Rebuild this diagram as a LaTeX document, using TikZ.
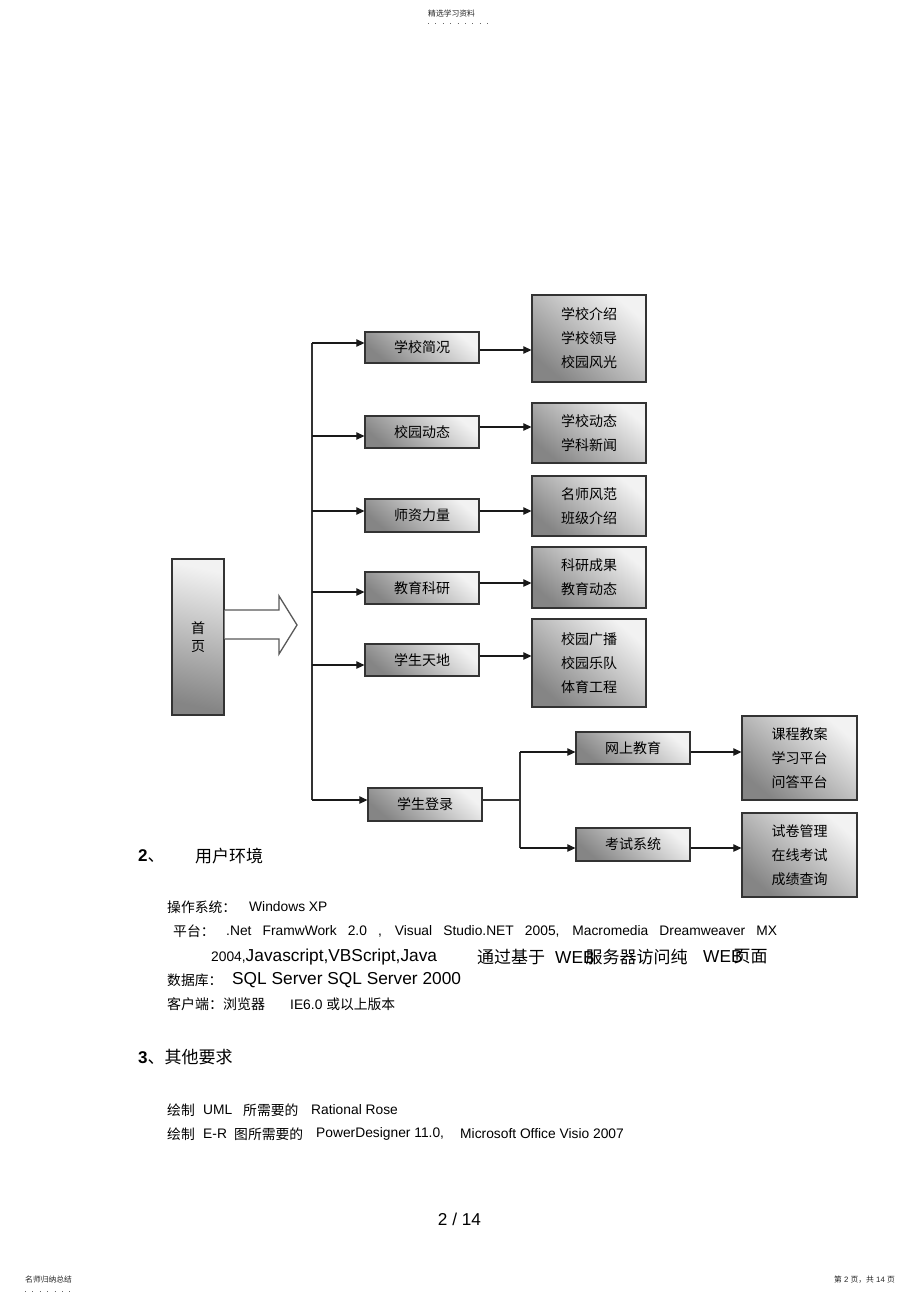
\documentclass[tikz,border=0pt]{standalone}
\usepackage{fontspec}
\setmainfont{Liberation Sans}
\newfontfamily\cjk{Noto Sans CJK SC}
\usetikzlibrary{arrows.meta}
\definecolor{boxlight}{gray}{0.95}
\definecolor{boxdark}{gray}{0.52}
\definecolor{edgecol}{gray}{0.20}
\begin{document}
\begin{tikzpicture}[x=1pt,y=-1pt,
  box/.style={draw=edgecol, line width=1.3pt, top color=boxlight, bottom color=boxdark, shading angle=-40,
    inner sep=0pt, align=center, font=\cjk\fontsize{14}{24}\selectfont},
  conn/.style={draw=black!90, line width=1.2pt, -{Triangle[length=8pt,width=7.5pt]}},
  plain/.style={draw=black!80, line width=1.2pt},
  txt/.style={anchor=west, inner sep=0pt},
  dots/.style={draw=black!60, line width=1pt, dash pattern=on 1pt off 6.4pt}]
\useasboundingbox[fill=white] (0,0) rectangle (920,1303);

% header / footer
\node[txt, font=\cjk\fontsize{7.8}{8}\selectfont, text=black!85] (hd) at (428,14) {精选学习资料};
\coordinate (hdA) at (428,24); \coordinate (hdB) at (492,24);
\draw[dots] (hdA) -- (hdB);
\node[txt, font=\cjk\fontsize{7.8}{8}\selectfont, text=black!85] (ftl) at (25,1280) {名师归纳总结};
\coordinate (ftA) at (25,1291); \coordinate (ftB) at (74,1291);
\draw[dots] (ftA) -- (ftB);
\node[anchor=east, inner sep=0pt, font=\fontsize{7.8}{8}\selectfont, text=black!85] (ftr) at (895,1280) {{\cjk 第} 2 {\cjk 页，共} 14 {\cjk 页}};

% diagram boxes
\node[box, minimum width=52pt, minimum height=156pt, font=\cjk\fontsize{14}{18}\selectfont, top color=boxlight, bottom color=boxdark, shading angle=-12] (home) at (198,637) {首\\页};

\node[box, minimum width=114pt, minimum height=31pt] (b1) at (422,347.5) {学校简况};
\node[box, minimum width=114pt, minimum height=32pt] (b2) at (422,432) {校园动态};
\node[box, minimum width=114pt, minimum height=33pt] (b3) at (422,515.5) {师资力量};
\node[box, minimum width=114pt, minimum height=32pt] (b4) at (422,588) {教育科研};
\node[box, minimum width=114pt, minimum height=32pt] (b5) at (422,660) {学生天地};
\node[box, minimum width=114pt, minimum height=33pt] (b6) at (425,804.5) {学生登录};

\node[box, minimum width=114pt, minimum height=87pt] (c1) at (589,338.5) {学校介绍\\学校领导\\校园风光};
\node[box, minimum width=114pt, minimum height=60pt] (c2) at (589,433) {学校动态\\学科新闻};
\node[box, minimum width=114pt, minimum height=60pt] (c3) at (589,506) {名师风范\\班级介绍};
\node[box, minimum width=114pt, minimum height=61pt] (c4) at (589,577.5) {科研成果\\教育动态};
\node[box, minimum width=114pt, minimum height=88pt] (c5) at (589,663) {校园广播\\校园乐队\\体育工程};

\node[box, minimum width=114pt, minimum height=32pt] (d1) at (633,748) {网上教育};
\node[box, minimum width=114pt, minimum height=33pt] (d2) at (633,844.5) {考试系统};

\node[box, minimum width=115pt, minimum height=84pt] (e1) at (799.5,758) {课程教案\\学习平台\\问答平台};
\node[box, minimum width=115pt, minimum height=84pt] (e2) at (799.5,855) {试卷管理\\在线考试\\成绩查询};

% hollow block arrow
\draw[draw=black!65, line width=1.3pt, fill=white, line join=miter]
  (home.east |- 0,610) -- (279,610) -- (279,596) -- (297,625) -- (279,654) -- (279,639) -- (home.east |- 0,639);

% trunk
\coordinate (t1) at (312,343);
\coordinate (t2) at (312,436);
\coordinate (t3) at (312,511);
\coordinate (t4) at (312,592);
\coordinate (t5) at (312,665);
\coordinate (t6) at (312,800);
\draw[plain] (t1) -- (t6);
\draw[conn] (t1) -- (t1 -| b1.west);
\draw[conn] (t2) -- (t2 -| b2.west);
\draw[conn] (t3) -- (t3 -| b3.west);
\draw[conn] (t4) -- (t4 -| b4.west);
\draw[conn] (t5) -- (t5 -| b5.west);
\draw[conn] (t6) -- (t6 -| b6.west);

% second level
\draw[conn] (b1.east |- 0,350) -- (c1.west |- 0,350);
\draw[conn] (b2.east |- 0,427) -- (c2.west |- 0,427);
\draw[conn] (b3.east |- 0,511) -- (c3.west |- 0,511);
\draw[conn] (b4.east |- 0,583) -- (c4.west |- 0,583);
\draw[conn] (b5.east |- 0,656) -- (c5.west |- 0,656);

% student login split
\coordinate (s0) at (520,800);
\coordinate (s1) at (520,752);
\coordinate (s2) at (520,848);
\draw[plain] (b6.east |- s0) -- (s0);
\draw[plain] (s1) -- (s2);
\draw[conn] (s1) -- (s1 -| d1.west);
\draw[conn] (s2) -- (s2 -| d2.west);
\draw[conn] (d1.east |- s1) -- (e1.west |- s1);
\draw[conn] (d2.east |- s2) -- (e2.west |- s2);

% text section
\node[txt, font=\fontsize{17}{20}\selectfont] (h2) at (138,856) {\textbf{2}{\cjk 、}};
\node[txt, font=\cjk\fontsize{17}{20}\selectfont] (h2t) at (195,856) {用户环境};

\node[txt, font=\cjk\fontsize{13.8}{16}\selectfont] (os1) at (167,907) {操作系统：};
\node[txt, font=\fontsize{13.8}{16}\selectfont] (os2) at (249,907) {Windows XP};

\node[txt, font=\cjk\fontsize{13.8}{16}\selectfont] (pf1) at (173,931) {平台：};
\node[txt, font=\fontsize{13.8}{16}\selectfont] (pf2) at (226,931) {\makebox[551pt][s]{.Net FramwWork 2.0 , Visual Studio.NET 2005, Macromedia Dreamweaver MX}};

\node[txt, font=\fontsize{17.3}{20}\selectfont] (pf3) at (211,957) {{\fontsize{13.8}{16}\selectfont 2004,}Javascript,VBScript,Java};
\node[txt, font=\cjk\fontsize{17}{20}\selectfont] (pf4) at (477,957) {通过基于};
\node[txt, font=\fontsize{17.3}{20}\selectfont] (pf5) at (555,957) {WEB\kern-9pt{\cjk\fontsize{17}{20}\selectfont 服务器访问纯}};
\node[txt, font=\fontsize{17.3}{20}\selectfont] (pf6) at (703,957) {WEB\kern-9pt{\cjk\fontsize{17}{20}\selectfont 页面}};

\node[txt, font=\cjk\fontsize{13.8}{16}\selectfont] (db1) at (167,980) {数据库：};
\node[txt, font=\fontsize{17.3}{20}\selectfont] (db2) at (232,980) {SQL Server SQL Server 2000};

\node[txt, font=\cjk\fontsize{14}{16}\selectfont] (cl1) at (167,1004) {客户端：浏览器};
\node[txt, font=\fontsize{13.8}{16}\selectfont] (cl2) at (290,1004) {IE6.0 {\cjk 或以上版本}};

\node[txt, font=\fontsize{17}{20}\selectfont] (h3) at (138,1057) {\textbf{3}{\cjk 、其他要求}};

\node[txt, font=\cjk\fontsize{13.8}{16}\selectfont] (r1a) at (167,1110) {绘制};
\node[txt, font=\fontsize{13.8}{16}\selectfont] (r1b) at (203,1110) {UML};
\node[txt, font=\cjk\fontsize{13.8}{16}\selectfont] (r1c) at (243,1110) {所需要的};
\node[txt, font=\fontsize{13.8}{16}\selectfont] (r1d) at (311,1110) {Rational Rose};

\node[txt, font=\cjk\fontsize{13.8}{16}\selectfont] (r2a) at (167,1134) {绘制};
\node[txt, font=\fontsize{13.8}{16}\selectfont] (r2b) at (203,1134) {E-R};
\node[txt, font=\cjk\fontsize{13.8}{16}\selectfont] (r2c) at (234,1134) {图所需要的};
\node[txt, font=\fontsize{13.8}{16}\selectfont] (r2d) at (316,1134) {PowerDesigner 11.0,};
\node[txt, font=\fontsize{13.8}{16}\selectfont] (r2e) at (460,1134) {Microsoft Office Visio 2007};

\node[inner sep=0pt, font=\fontsize{17.2}{20}\selectfont] (pg) at (459.5,1219) {2 / 14};
\end{tikzpicture}
\end{document}
